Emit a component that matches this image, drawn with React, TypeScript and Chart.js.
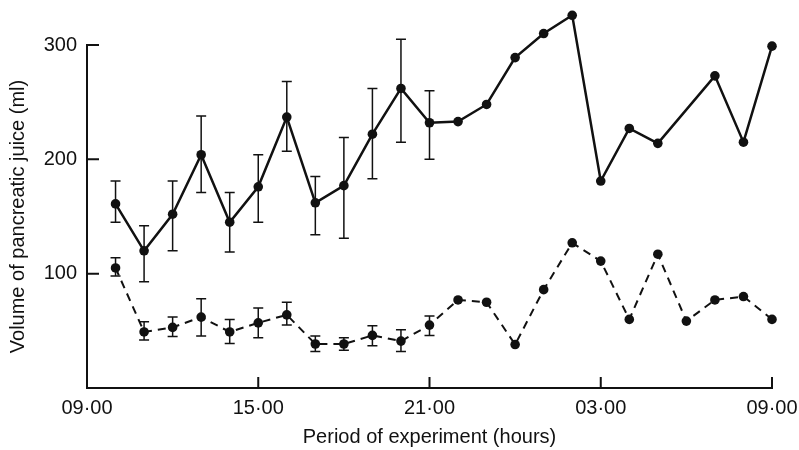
import React, { useEffect, useRef } from "react";
import { Chart, registerables } from "chart.js";

Chart.register(...registerables);

// Hours after 09:00 (start of experiment)
const dashedHours = [1, 2, 3, 4, 5, 6, 7, 8, 9, 10, 11, 12, 13, 14, 15, 16, 17, 18, 19, 20, 21, 22, 23, 24];
const solidHours = [1, 2, 3, 4, 5, 6, 7, 8, 9, 10, 11, 12, 13, 14, 15, 16, 17, 18, 19, 20, 22, 23, 24];

const solidMean = [161, 120, 152, 204, 145, 176, 237, 162, 177, 222, 262, 232, 233, 248, 289, 310, 326, 181, 227, 214, 273, 215, 299];
const solidUpper = [181, 142, 181, 238, 171, 204, 268, 185, 219, 262, 305, 260];
const solidLower = [145, 93, 120, 171, 119, 145, 207, 134, 131, 183, 215, 200];

const dashedMean = [105, 49, 53, 62, 49, 57, 64, 38.5, 38.5, 46, 41, 55, 77, 75, 38, 86, 127, 111, 60, 117, 58.5, 77, 80, 60];
const dashedUpper = [114, 58, 62, 78, 60, 70, 75, 45.5, 44, 54.5, 51, 63];
const dashedLower = [98, 42, 45, 45.5, 39, 44, 55, 32, 33, 37, 32, 46];

const xTickValues = [0, 6, 12, 18, 24];
const xTickLabels = ["09·00", "15·00", "21·00", "03·00", "09·00"];
const yTickValues = [100, 200, 300];

const xTitle = "Period of experiment (hours)";
const yTitle = "Volume of pancreatic juice (ml)";

const FONT = "'Liberation Sans', Arial, Helvetica, sans-serif";
const INK = "#111";
const POINT_R = 4.8;

const errorBarPlugin = {
  id: "errorBars",
  afterDatasetsDraw(chart: any) {
    const ctx = chart.ctx;
    const yScale = chart.scales.y;
    const area = chart.chartArea;
    chart.data.datasets.forEach((ds: any, i: number) => {
      const meta = chart.getDatasetMeta(i);
      const up: number[] = ds.errUpper || [];
      const lo: number[] = ds.errLower || [];
      ctx.save();
      ctx.fillStyle = INK;
      // points lying above the top of the axis (Chart.js skips them)
      meta.data.forEach((el: any) => {
        if (el.y < area.top) {
          ctx.beginPath();
          ctx.arc(el.x, el.y, POINT_R, 0, Math.PI * 2);
          ctx.fill();
        }
      });
      ctx.strokeStyle = INK;
      ctx.lineWidth = 1.5;
      ctx.setLineDash([]);
      for (let j = 0; j < up.length; j++) {
        const el = meta.data[j];
        if (!el) continue;
        const x = el.x;
        const yt = yScale.getPixelForValue(up[j]);
        const yb = yScale.getPixelForValue(lo[j]);
        const cap = 5;
        ctx.beginPath();
        ctx.moveTo(x, yt);
        ctx.lineTo(x, yb);
        ctx.moveTo(x - cap, yt);
        ctx.lineTo(x + cap, yt);
        ctx.moveTo(x - cap, yb);
        ctx.lineTo(x + cap, yb);
        ctx.stroke();
      }
      ctx.restore();
    });
  },
};

const innerTicksPlugin = {
  id: "innerTicks",
  afterDraw(chart: any) {
    const ctx = chart.ctx;
    const { x: xs, y: ys } = chart.scales;
    const area = chart.chartArea;
    ctx.save();
    ctx.strokeStyle = INK;
    ctx.lineWidth = 2;
    ctx.beginPath();
    xs.ticks.forEach((t: any) => {
      const px = xs.getPixelForValue(t.value);
      ctx.moveTo(px, area.bottom);
      ctx.lineTo(px, area.bottom - 11);
    });
    ys.ticks.forEach((t: any) => {
      const py = ys.getPixelForValue(t.value);
      ctx.moveTo(area.left, py);
      ctx.lineTo(area.left + 12, py);
    });
    ctx.stroke();
    ctx.restore();
  },
};

export default function App() {
  const canvasRef = useRef<HTMLCanvasElement | null>(null);

  useEffect(() => {
    if (!canvasRef.current) return;
    const chart = new Chart(canvasRef.current, {
      type: "line",
      data: {
        datasets: [
          {
            label: "solid",
            data: solidHours.map((h, i) => ({ x: h, y: solidMean[i] })),
            borderColor: INK,
            backgroundColor: INK,
            borderWidth: 2.5,
            pointRadius: POINT_R,
            pointHoverRadius: POINT_R,
            pointBackgroundColor: INK,
            pointBorderWidth: 0,
            tension: 0,
            clip: false,
            errUpper: solidUpper,
            errLower: solidLower,
          } as any,
          {
            label: "dashed",
            data: dashedHours.map((h, i) => ({ x: h, y: dashedMean[i] })),
            borderColor: INK,
            backgroundColor: INK,
            borderWidth: 2,
            borderDash: [8, 6],
            pointRadius: POINT_R,
            pointHoverRadius: POINT_R,
            pointBackgroundColor: INK,
            pointBorderWidth: 0,
            tension: 0,
            clip: false,
            errUpper: dashedUpper,
            errLower: dashedLower,
          } as any,
        ],
      },
      options: {
        animation: false,
        responsive: true,
        maintainAspectRatio: false,
        layout: { padding: { top: 45, right: 27, left: 0, bottom: 0 } },
        plugins: {
          legend: { display: false },
          tooltip: { enabled: false },
        },
        scales: {
          x: {
            type: "linear",
            min: 0,
            max: 24,
            afterBuildTicks: (scale: any) => {
              scale.ticks = xTickValues.map((v) => ({ value: v }));
            },
            afterFit: (scale: any) => {
              scale.height = 62;
              scale.paddingLeft = 0;
              scale.paddingRight = 0;
            },
            grid: { display: true, drawOnChartArea: false, drawTicks: false },
            border: { display: true, color: INK, width: 2 },
            ticks: {
              padding: 8,
              color: INK,
              font: { family: FONT, size: 20 },
              maxRotation: 0,
              autoSkip: false,
              callback: (value: any) => {
                const idx = xTickValues.indexOf(Number(value));
                return idx >= 0 ? xTickLabels[idx] : "";
              },
            },
            title: {
              display: true,
              text: xTitle,
              color: INK,
              font: { family: FONT, size: 20 },
              padding: { top: 0, bottom: 1 },
            },
          },
          y: {
            type: "linear",
            min: 0,
            max: 300,
            afterBuildTicks: (scale: any) => {
              scale.ticks = yTickValues.map((v) => ({ value: v }));
            },
            afterFit: (scale: any) => {
              scale.width = 87;
            },
            grid: { display: true, drawOnChartArea: false, drawTicks: false },
            border: { display: true, color: INK, width: 2 },
            ticks: {
              padding: 10,
              color: INK,
              font: { family: FONT, size: 20 },
              autoSkip: false,
            },
            title: {
              display: true,
              text: yTitle,
              color: INK,
              font: { family: FONT, size: 20 },
              padding: { top: 6, bottom: 0 },
            },
          },
        },
      },
      plugins: [errorBarPlugin, innerTicksPlugin],
    });
    return () => chart.destroy();
  }, []);

  return (
    <div style={{ position: "absolute", left: 0, top: 0, width: 799, height: 450, background: "#fff" }}>
      <canvas ref={canvasRef} />
    </div>
  );
}
